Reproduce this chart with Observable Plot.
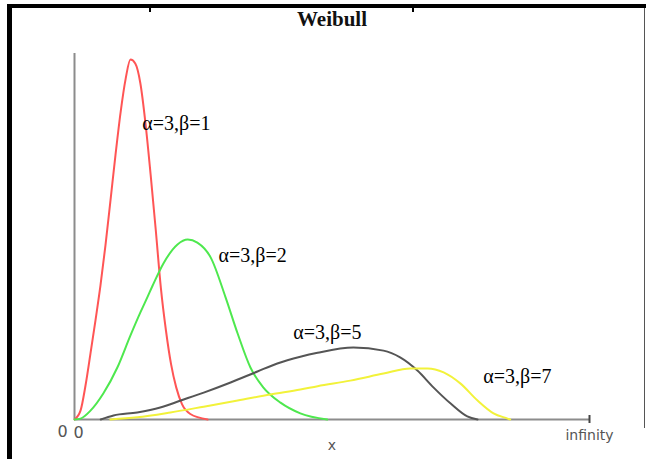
<!DOCTYPE html>
<html>
<head>
<meta charset="utf-8">
<script src="https://cdn.jsdelivr.net/npm/d3@7"></script>
<script src="https://cdn.jsdelivr.net/npm/@observablehq/plot@0.6"></script>
<style>
  html, body { margin: 0; padding: 0; background: #fff; }
  #wrap { position: relative; width: 646px; height: 459px; overflow: hidden; background: #fff; }
  #wrap svg { position: absolute; left: 0; top: 0; }
  .bar { position: absolute; background: #000; }
  #title { position: absolute; top: 7px; left: 232px; width: 200px; text-align: center;
           font: bold 21px "Liberation Serif", "Times New Roman", serif; color: #111; }
</style>
</head>
<body>
<div id="wrap">
  <div class="bar" style="left:7px;top:4px;width:639px;height:4px"></div>
  <div class="bar" style="left:7px;top:4px;width:5px;height:455px"></div>
  <div class="bar" style="left:644px;top:8px;width:1px;height:420px;background:#555"></div>
  <div class="bar" style="left:149px;top:8px;width:2px;height:4px"></div>
  <div class="bar" style="left:412px;top:8px;width:2px;height:4px"></div>
  <div id="title">Weibull</div>
</div>
<script>
// Series labels
const seriesNames = ["α=3,β=1", "α=3,β=2", "α=3,β=5", "α=3,β=7"];
const seriesColors = ["#ff5555", "#4ee84e", "#555555", "#f2f23a"];

// Curve values (x, density)
const red_x = [0, 0.094, 0.172, 0.25, 0.328, 0.406, 0.484, 0.5625, 0.64, 0.72, 0.80, 0.875, 0.95, 1.03, 1.11, 1.19, 1.27, 1.35, 1.43, 1.51, 1.59, 1.68, 1.81, 2.08];
const red_y = [0, 0.029, 0.111, 0.216, 0.324, 0.438, 0.569, 0.716, 0.863, 1.003, 1.114, 1.176, 1.163, 1.098, 0.967, 0.80, 0.62, 0.43, 0.29, 0.18, 0.105, 0.05, 0.018, 0];

const green_x = [0, 0.094, 0.25, 0.45, 0.67, 0.875, 1.03, 1.14, 1.22, 1.39, 1.61, 1.77, 1.92, 2.13, 2.36, 2.55, 2.75, 2.95, 3.22, 3.53, 3.95];
const green_y = [0, 0.003, 0.029, 0.085, 0.17, 0.275, 0.35, 0.40, 0.437, 0.51, 0.572, 0.588, 0.578, 0.529, 0.40, 0.281, 0.17, 0.105, 0.055, 0.02, 0];

const black_x = [0.41, 0.61, 0.98, 1.34, 1.66, 2.02, 2.44, 2.86, 3.17, 3.53, 3.80, 4.36, 4.83, 5.09, 5.36, 5.61, 5.88, 6.14, 6.30];
const black_y = [0, 0.013, 0.023, 0.039, 0.062, 0.088, 0.121, 0.157, 0.183, 0.205, 0.218, 0.235, 0.225, 0.203, 0.160, 0.105, 0.052, 0.010, 0];

const yellow_x = [0.56, 0.98, 1.50, 2.02, 2.55, 3.06, 3.53, 3.80, 4.31, 4.83, 5.25, 5.52, 5.77, 6.03, 6.30, 6.55, 6.77, 6.81];
const yellow_y = [0, 0.007, 0.023, 0.042, 0.062, 0.082, 0.098, 0.109, 0.127, 0.150, 0.167, 0.167, 0.154, 0.118, 0.062, 0.020, 0.003, 0];

// Where each series label sits (data coordinates)
const labelX = [1.06, 2.25, 3.42, 6.39];
const labelY = [0.967, 0.536, 0.284, 0.141];

// Axis extents and tick labels
const xMax = 8.05;
const yMax = 1.196;
const xTickLabels = ["0", "infinity"];
const yTickLabel = "0";
const xAxisLabel = "x";

const toRows = (xs, ys, s) => xs.map((x, i) => ({x, y: ys[i], s}));
const rows = [
  ...toRows(red_x, red_y, 0),
  ...toRows(green_x, green_y, 1),
  ...toRows(black_x, black_y, 2),
  ...toRows(yellow_x, yellow_y, 3)
];
const labels = seriesNames.map((t, i) => ({t, x: labelX[i], y: labelY[i]}));

const sans = "'DejaVu Sans', Verdana, sans-serif";
const serif = "'Liberation Serif', 'Times New Roman', serif";

const chart = Plot.plot({
  width: 646,
  height: 459,
  marginLeft: 74,
  marginRight: 57,
  marginTop: 53,
  marginBottom: 40,
  style: {background: "transparent", overflow: "visible"},
  x: {domain: [0, xMax], axis: null},
  y: {domain: [0, yMax], axis: null},
  marks: [
    Plot.ruleY([0], {stroke: "#8c8c8c", strokeWidth: 2}),
    Plot.ruleX([0], {stroke: "#8c8c8c", strokeWidth: 2}),
    Plot.ruleX([xMax], {y1: 0, y2: 0, insetTop: 4, insetBottom: 4, stroke: "#444", strokeWidth: 2}),
    ...[0, 1, 2, 3].map(s => Plot.line(rows.filter(d => d.s === s), {
      x: "x", y: "y", stroke: seriesColors[s], strokeWidth: 2, curve: "monotone-x"
    })),
    Plot.text(labels, {x: "x", y: "y", text: "t", textAnchor: "start", fontSize: 20, fontFamily: serif, fill: "#000"}),
    Plot.text([0], {x: 0, y: 0, text: () => xTickLabels[0], dx: 4, dy: 13, fontSize: 16, fontFamily: sans, fill: "#555"}),
    Plot.text([0], {x: 0, y: 0, text: () => yTickLabel, dx: -12, dy: 12, fontSize: 16, fontFamily: sans, fill: "#555"}),
    Plot.text([xMax], {x: d => d, y: 0, text: () => xTickLabels[1], dy: 16, fontSize: 14, fontFamily: sans, fill: "#555"}),
    Plot.text([xMax / 2], {x: d => d, y: 0, text: () => xAxisLabel, dy: 26, fontSize: 14, fontFamily: sans, fill: "#555"})
  ]
});
document.getElementById("wrap").prepend(chart);
</script>
</body>
</html>
